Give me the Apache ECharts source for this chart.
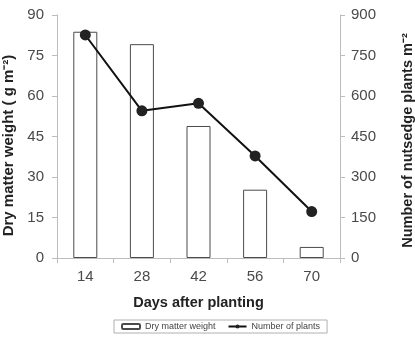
<!DOCTYPE html>
<html><head><meta charset="utf-8">
<script src="https://cdn.jsdelivr.net/npm/echarts@6/dist/echarts.min.js"></script>
<style>html,body{margin:0;padding:0;background:#fff}#c{width:415px;height:339px}</style>
</head><body><div id="c"></div>
<script>
const days = ['14', '28', '42', '56', '70'];
const dryMatter = [83.8, 79.2, 48.9, 25.3, 4.1];
const plants = [826, 545, 573, 378, 172];
const leftTicks = [0, 15, 30, 45, 60, 75, 90];
const rightTicks = [0, 150, 300, 450, 600, 750, 900];

const chart = echarts.init(document.getElementById('c'));
const FF = 'Liberation Sans, Arial, sans-serif';
const axisLine = {lineStyle: {color: '#bdbdbd', width: 1}};
const axisTick = {lineStyle: {color: '#bdbdbd'}, length: 5};
const lab = {color: '#4a4a4a', fontSize: 15, fontFamily: FF};
const nameStyle = {color: '#222', fontSize: 14.5, fontWeight: 'bold', fontFamily: FF};
chart.setOption({
  animation: false,
  grid: {left: 57, right: 75, top: 15, bottom: 81, containLabel: false, outerBoundsMode: 'none'},
  legend: {
    bottom: 6, left: 114,
    data: ['Dry matter weight', 'Number of plants'],
    borderColor: '#b0b0b0', borderWidth: 1, padding: [2, 7],
    itemGap: 12, itemWidth: 18, itemHeight: 5,
    textStyle: {fontSize: 9, color: '#444', fontFamily: FF}
  },
  xAxis: {
    type: 'category', data: days,
    name: 'Days after planting', nameLocation: 'middle', nameGap: 37,
    nameTextStyle: nameStyle,
    axisLine, axisTick: {show: true, alignWithLabel: false, lineStyle: {color: '#bdbdbd'}, length: 5},
    axisLabel: Object.assign({margin: 11}, lab)
  },
  yAxis: [{
    type: 'value', min: leftTicks[0], max: leftTicks[leftTicks.length - 1], interval: 15,
    name: 'Dry matter weight ( g m⁻²)', nameLocation: 'middle', nameGap: 41, nameRotate: 90,
    nameTextStyle: Object.assign({}, nameStyle, {fontSize: 15, padding: [0, 18, 0, 0]}),
    axisLine: Object.assign({show: true}, axisLine), axisTick: Object.assign({show: true}, axisTick),
    splitLine: {show: false},
    axisLabel: Object.assign({margin: 13}, lab)
  }, {
    type: 'value', min: rightTicks[0], max: rightTicks[rightTicks.length - 1], interval: 150,
    name: 'Number of nutsedge plants m⁻²', nameLocation: 'middle', nameGap: 60, nameRotate: 90,
    nameTextStyle: Object.assign({}, nameStyle, {padding: [0, 8, 0, 0]}), position: 'right',
    axisLine: Object.assign({show: true}, axisLine), axisTick: Object.assign({show: true}, axisTick),
    splitLine: {show: false},
    axisLabel: Object.assign({margin: 11}, lab)
  }],
  series: [{
    name: 'Dry matter weight', type: 'bar', data: dryMatter, yAxisIndex: 0,
    barWidth: 24,
    itemStyle: {color: '#fff', borderColor: '#4a4a4a', borderWidth: 1}
  }, {
    name: 'Number of plants', type: 'line', data: plants, yAxisIndex: 1,
    symbol: 'circle', symbolSize: 11,
    lineStyle: {color: '#111', width: 2},
    itemStyle: {color: '#222'}
  }]
});
</script></body></html>
